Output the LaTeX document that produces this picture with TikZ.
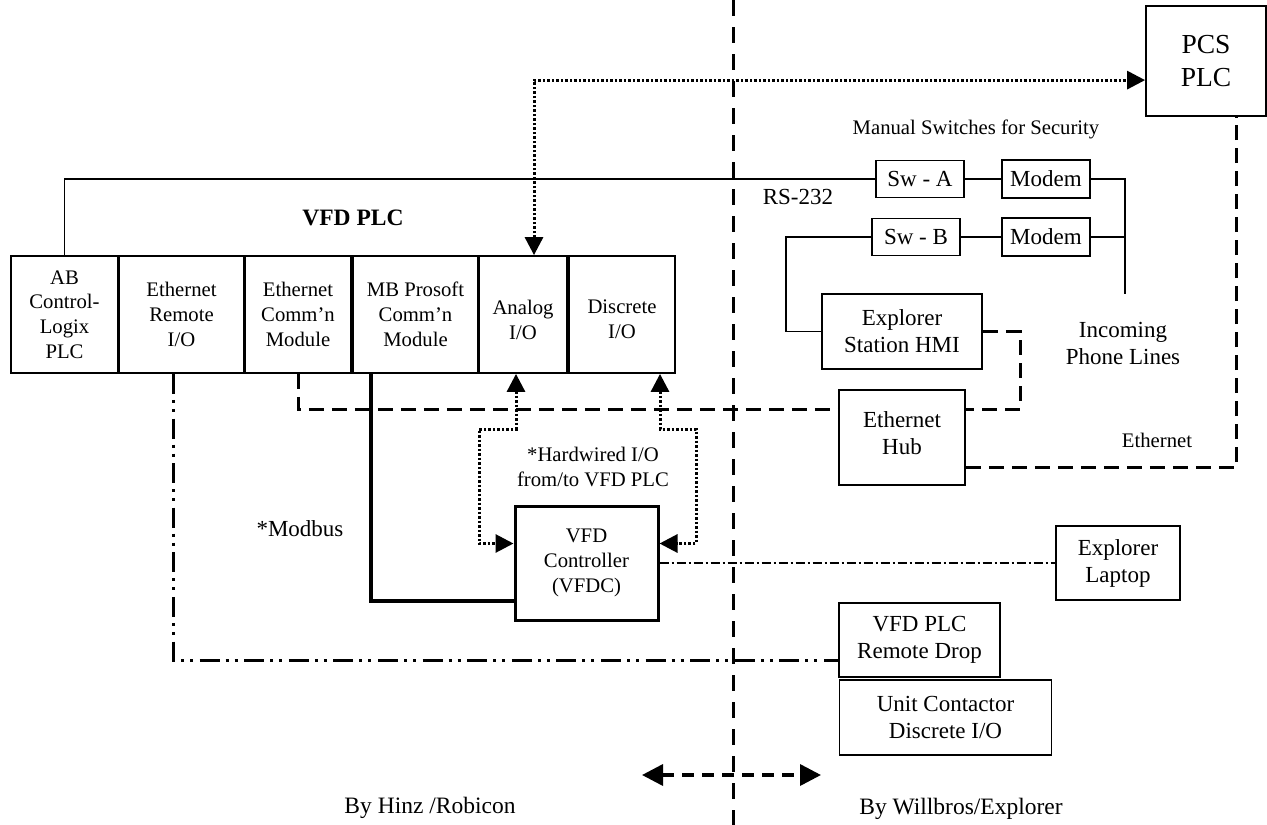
\documentclass[tikz,border=0pt]{standalone}
\usepackage{fontspec}
\setmainfont{Liberation Serif}
\usetikzlibrary{arrows.meta,calc}
\newcommand\FtLeft{\fontsize{20.7}{24.7}\selectfont}
\newcommand\FtRight{\fontsize{23}{27}\selectfont}
\newcommand\FtPCS{\fontsize{27.5}{33}\selectfont}
\newcommand\FtBig{\fontsize{23.5}{28}\selectfont}
\begin{document}
\begin{tikzpicture}[x=1pt,y=-1pt,
  lbox/.style={draw, line width=1.8pt, inner sep=0pt, align=center, font=\FtLeft, minimum height=117pt},
  rbox/.style={draw, line width=1.8pt, inner sep=0pt, align=center, font=\FtRight},
  txt/.style={inner sep=0pt, align=center, font=\FtRight},
  thinline/.style={line width=1.5pt},
  ethline/.style={line width=3pt, dash pattern=on 15pt off 8pt},
  dotline/.style={line width=3pt, dash pattern=on 2.5pt off 2pt},
  modline/.style={line width=4pt},
  ddline/.style={line width=3pt, dash pattern=on 20pt off 6pt on 3pt off 6pt on 3pt off 6.6pt},
  dline/.style={line width=1.2pt, dash pattern=on 9pt off 3pt on 2pt off 3pt},
  divline/.style={line width=3pt, dash pattern=on 16pt off 11pt},
  arrline/.style={line width=3.5pt, dash pattern=on 12pt off 8pt},
  tips/.style={{Triangle[length=18pt,width=18pt]}-{Triangle[length=18pt,width=18pt]}},
  bigtips/.style={{Triangle[length=21pt,width=21pt]}-{Triangle[length=21pt,width=21pt]}}
]
\useasboundingbox (0,0) rectangle (1267,825);

% divider
\coordinate (dt) at (733,0);
\coordinate (db) at (733,825);
\draw[divline] (dt) -- (db);

% PLC row
\node[lbox, minimum width=107pt] (b1) at (64.5,314.5) {AB\\Control-\\Logix\\PLC};
\node[lbox, minimum width=125pt] (b2) at (181.5,314.5) {Ethernet\\Remote\\I/O};
\node[lbox, minimum width=106pt] (b3) at (298,314.5) {Ethernet\\Comm'n\\Module};
\node[lbox, minimum width=125pt] (b4) at (415.5,314.5) {MB Prosoft\\Comm'n\\Module};
\node[lbox, minimum width=88pt, text height=50pt] (b5) at (523,314.5) {Analog\\I/O};
\node[lbox, minimum width=106pt, text height=48pt] (b6) at (622,314.5) {Discrete\\I/O};

\node[txt, font=\FtBig\bfseries] (vfdplc) at (353,218) {VFD PLC};

% right side
\node[rbox, minimum width=120pt, minimum height=110pt, font=\FtPCS] (pcs) at (1206,61) {PCS\\PLC};
\node[txt, font=\FtLeft] (manual) at (976,129) {Manual Switches for Security};
\node[rbox, minimum width=88pt, minimum height=37pt] (swa) at (920,179) {Sw - A};
\node[rbox, minimum width=88pt, minimum height=38pt] (moda) at (1046,179) {Modem};
\node[txt] (rs) at (798,197) {RS-232};
\node[rbox, minimum width=88pt, minimum height=37pt] (swb) at (916,237) {Sw - B};
\node[rbox, minimum width=88pt, minimum height=38pt] (modb) at (1046,237) {Modem};
\node[rbox, minimum width=160pt, minimum height=75pt] (hmi) at (902,331.5) {Explorer\\Station HMI};
\node[txt] (phone) at (1123,343) {Incoming\\Phone Lines};
\node[rbox, minimum width=126pt, minimum height=95pt, text depth=8pt] (hub) at (902,437.5) {Ethernet\\Hub};
\node[txt, font=\FtLeft] (ethlbl) at (1157,440) {Ethernet};

% VFD controller region
\node[txt, font=\FtLeft] (hw) at (593,467) {*Hardwired I/O\\from/to VFD PLC};
\node[txt] (modbus) at (300,529) {*Modbus};
\node[draw, line width=3pt, inner sep=0pt, align=center, font=\FtLeft, minimum width=143pt, minimum height=114pt] (vfdc) at (586.5,563) {VFD\\Controller\\(VFDC)};
\node[rbox, minimum width=124pt, minimum height=74pt] (laptop) at (1118,563) {Explorer\\Laptop};
\node[rbox, minimum width=161pt, minimum height=74pt] (rdrop) at (919.5,640) {VFD PLC\\Remote Drop};
\node[rbox, minimum width=212pt, minimum height=75pt] (ucont) at (945.5,717.5) {Unit Contactor\\Discrete I/O};

\node[txt, font=\FtBig] (hinz) at (430,808) {By Hinz /Robicon};
\node[txt, font=\FtBig] (will) at (961,809) {By Willbros/Explorer};

% RS-232 / phone lines
\draw[thinline] (b1.north) |- (swa.west);
\draw[thinline] (swa.east) -- (moda.west);
\draw[thinline] (swb.east) -- (modb.west);
\coordinate (ph) at (1125,294);
\draw[thinline] (moda.east) -| (ph);
\draw[thinline] (modb.east) -- (modb.east -| ph);
\coordinate (xS) at (786,0);
\draw[thinline] (swb.west) -| (xS |- hmi.west) -- (hmi.west);

% Ethernet
\coordinate (xE) at (1020,0);
\coordinate (hubin) at ($(hub.north east)+(0,20)$);
\coordinate (hubinL) at ($(hub.north west)+(0,20)$);
\coordinate (hubout) at ($(hub.south east)+(0,-18)$);
\coordinate (xP) at (1236,0);
\draw[ethline] (hmi.east) -| (xE |- hubin) -- (hubin);
\draw[ethline] (b3.south) |- (hubinL);
\draw[ethline] (hubout) -| (xP |- pcs.south);

% top dotted link to PCS
\coordinate (xL) at (534,0);
\coordinate (pcsin) at ($(pcs.north west)+(0,75)$);
\draw[dotline, tips] (b5.north -| xL) |- (pcsin);

% hardwired dotted links
\coordinate (yD) at (0,429);
\coordinate (xA) at (516,0);
\coordinate (xAl) at (479,0);
\coordinate (xB) at (660,0);
\coordinate (xBr) at (696,0);
\coordinate (vl) at ($(vfdc.north west)+(0,39)$);
\coordinate (vr) at ($(vfdc.north east)+(0,39)$);
\draw[dotline, tips] (b5.south -| xA) -- (xA |- yD) -- (xAl |- yD) -- (xAl |- vl) -- (vl);
\draw[dotline, tips] (b6.south -| xB) -- (xB |- yD) -- (xBr |- yD) -- (xBr |- vr) -- (vr);

% modbus
\coordinate (xM) at (371,0);
\draw[modline] (b4.south -| xM) |- ($(vfdc.north west)+(0,96)$);

% remote I/O
\coordinate (xR) at (173.5,0);
\draw[ddline] (b2.south -| xR) |- ($(rdrop.west)+(0,20)$);

% laptop
\draw[dline] (vfdc.east) -- (laptop.west);

% scope arrow
\coordinate (al) at (642,775);
\coordinate (ar) at (821,775);
\draw[arrline, bigtips] (al) -- (ar);
\end{tikzpicture}
\end{document}
